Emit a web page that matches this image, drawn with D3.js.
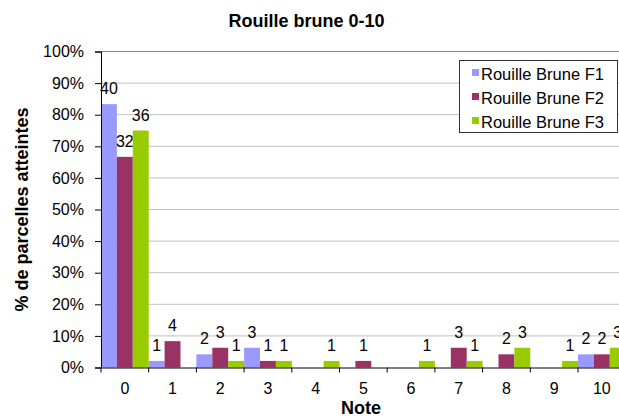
<!DOCTYPE html>
<html>
<head>
<meta charset="utf-8">
<script src="https://cdn.jsdelivr.net/npm/d3@7"></script>
<style>
  html, body { margin: 0; padding: 0; background: #fff; }
  svg { display: block; font-family: "Liberation Sans", Arial, sans-serif; }
</style>
</head>
<body>
<svg id="chart" width="619" height="418"></svg>
<script>
const categories = ["0","1","2","3","4","5","6","7","8","9","10"];
const seriesNames = ["Rouille Brune F1","Rouille Brune F2","Rouille Brune F3"];
const countsF1 = [40,1,2,3,0,0,0,0,0,0,2];
const countsF2 = [32,4,3,1,0,1,0,3,2,0,2];
const countsF3 = [36,0,1,1,1,0,1,1,3,1,3];
const totalParcels = 48;
const yTicks = [0,0.1,0.2,0.3,0.4,0.5,0.6,0.7,0.8,0.9,1.0];
const colors = ["#9999FF","#993366","#99CC00"];

(function () {
const series = [countsF1, countsF2, countsF3];
const FONT = "Liberation Sans, Arial, sans-serif";

const svg = d3.select("#chart");
const pLeft = 101, pTop = 51.5, pBottom = 367.5, bandW = 47.7;
const pRight = pLeft + bandW * categories.length;

const x = d3.scaleBand().domain(categories).range([pLeft, pRight]).padding(0);
const xInner = d3.scaleBand().domain(seriesNames).range([0, x.bandwidth()]).padding(0);
const y = d3.scaleLinear().domain([0, 1]).range([pBottom, pTop]);

// gridlines
svg.append("g").selectAll("line").data(yTicks.filter(d => d > 0)).join("line")
  .attr("x1", pLeft).attr("x2", pRight)
  .attr("y1", d => y(d)).attr("y2", d => y(d))
  .attr("stroke", d => d === 1 ? "#888" : "#c0c0c0")
  .attr("stroke-width", 1);

// bars
series.forEach((vals, si) => {
  const g = svg.append("g");
  const data = vals.map((v, i) => ({v, c: categories[i]}));
  g.selectAll("rect").data(data).join("rect")
    .attr("x", d => x(d.c) + xInner(seriesNames[si]))
    .attr("width", xInner.bandwidth())
    .attr("y", d => y(d.v / totalParcels))
    .attr("height", d => pBottom - y(d.v / totalParcels))
    .attr("fill", colors[si]);
  g.selectAll("text").data(data.filter(d => d.v > 0)).join("text")
    .attr("x", d => x(d.c) + xInner(seriesNames[si]) + xInner.bandwidth() / 2)
    .attr("y", d => y(d.v / totalParcels) - 10)
    .attr("text-anchor", "middle")
    .attr("font-size", "16px")
    .attr("fill", "#000")
    .text(d => d.v);
});

// y axis
const yAxis = d3.axisLeft(y).tickValues(yTicks).tickFormat(d3.format(".0%")).tickSize(6).tickPadding(11);
const ya = svg.append("g").attr("transform", `translate(${pLeft},0)`).call(yAxis);
ya.select(".domain").attr("stroke", "#000");
ya.selectAll(".tick line").attr("stroke", "#000");
ya.selectAll(".tick text").attr("font-size", "16px").attr("font-family", FONT).attr("fill", "#000");

// x axis
const xAxis = d3.axisBottom(x).tickSize(0).tickPadding(15);
const xa = svg.append("g").attr("transform", `translate(0,${pBottom})`).call(xAxis);
xa.select(".domain").attr("stroke", "#000");
xa.selectAll(".tick text").attr("font-size", "16px").attr("font-family", FONT).attr("fill", "#000");
svg.append("g").selectAll("line").data(categories).join("line")
  .attr("x1", d => x(d)).attr("x2", d => x(d))
  .attr("y1", pBottom).attr("y2", pBottom + 5)
  .attr("stroke", "#000");

// title
svg.append("text").attr("x", 306.5).attr("y", 26.5).attr("text-anchor", "middle")
  .attr("font-size", "18px").attr("font-weight", "bold").text("Rouille brune 0-10");

// axis titles
svg.append("text").attr("x", 361).attr("y", 413.5).attr("text-anchor", "middle")
  .attr("font-size", "18px").attr("font-weight", "bold").text("Note");
svg.append("text").attr("transform", "translate(28,209.5) rotate(-90)").attr("text-anchor", "middle")
  .attr("font-size", "18px").attr("font-weight", "bold").text("% de parcelles atteintes");

// legend
const lg = svg.append("g");
lg.append("rect").attr("x", 459.5).attr("y", 60.5).attr("width", 158).attr("height", 72)
  .attr("fill", "#fff").attr("stroke", "#333").attr("stroke-width", 1);
seriesNames.forEach((name, i) => {
  const base = 80 + i * 24;
  lg.append("rect").attr("x", 472).attr("y", base - 11).attr("width", 7).attr("height", 7).attr("fill", colors[i]);
  lg.append("text").attr("x", 481).attr("y", base).attr("font-size", "16.5px").text(name);
});
})();
</script>
</body>
</html>
